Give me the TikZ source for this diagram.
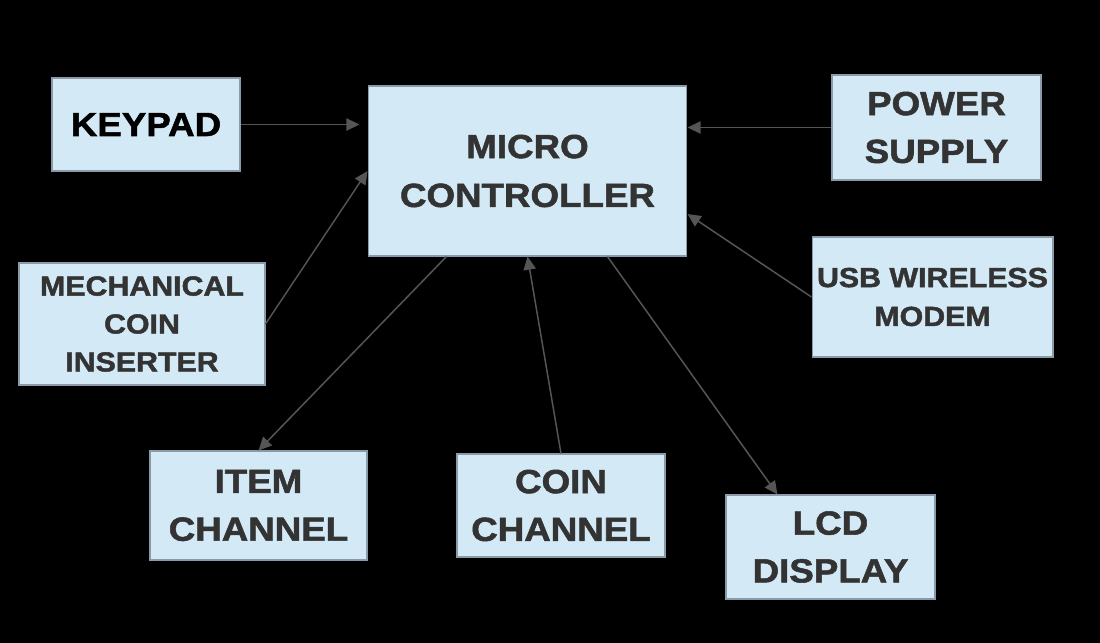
\documentclass[tikz,border=0pt]{standalone}
\usepackage{fontspec}
\setmainfont{Liberation Sans}
\newfontfamily\boxfont{Liberation Sans}[FakeStretch=1.1, FakeBold=1.6]
\usetikzlibrary{arrows.meta}

\definecolor{boxfill}{HTML}{D3E9F6}
\definecolor{boxedge}{HTML}{8A9AA8}
\definecolor{boxtext}{HTML}{333333}
\definecolor{linea}{HTML}{555555}

\begin{document}
\begin{tikzpicture}[x=0.02cm, y=-0.02cm,
	blocco/.style={draw=boxedge, line width=0.6pt, fill=boxfill, text=boxtext, align=center, inner sep=0pt,
		font=\boxfont\bfseries\fontsize{19}{27.2}\selectfont},
	piccolo/.style={font=\boxfont\bfseries\fontsize{15.7}{21.6}\selectfont},
	freccia/.style={draw=linea, line width=0.85pt, -{Triangle[length=7.5pt, width=7pt]}}]
	
	% Sfondo nero con le misure del disegno
	\fill[black] (0, 0) rectangle (1100, 643);
	
	% Blocchi in alto
	\node[blocco, text=black, minimum width=3.76cm, minimum height=1.86cm] (keypad) at (146, 124.5) {KEYPAD};
	\node[blocco, minimum width=6.38cm, minimum height=3.4cm, font=\boxfont\bfseries\fontsize{19}{27.8}\selectfont] (micro) at (527.5, 171) {MICRO\\CONTROLLER};
	\node[blocco, minimum width=4.18cm, minimum height=2.1cm] (power) at (936.5, 127.5) {POWER\\SUPPLY};
	
	% Blocchi laterali con testo piu piccolo
	\node[blocco, piccolo, minimum width=4.92cm, minimum height=2.44cm] (mech) at (142, 324) {MECHANICAL\\COIN\\INSERTER};
	\node[blocco, piccolo, minimum width=4.82cm, minimum height=2.4cm, font=\boxfont\bfseries\fontsize{15.7}{22.1}\selectfont] (usb) at (932.5, 297) {USB WIRELESS\\MODEM};
	
	% Blocchi in basso
	\node[blocco, minimum width=4.34cm, minimum height=2.18cm] (item) at (258.5, 505.5) {ITEM\\CHANNEL};
	\node[blocco, minimum width=4.16cm, minimum height=2.06cm] (coin) at (561, 505.5) {COIN\\CHANNEL};
	\node[blocco, minimum width=4.18cm, minimum height=2.08cm] (lcd) at (830.5, 547) {LCD\\DISPLAY};
	
	% Collegamenti
	\draw[freccia, shorten >=0.16cm] (keypad.east) -- (micro.west |- keypad.east);
	\draw[freccia] (mech.east) -- (micro.west);
	\draw[freccia] (power.west) -- (micro.east |- power.west);
	\draw[freccia] (usb.west) -- ([yshift=-0.86cm]micro.east);
	\draw[freccia] ([xshift=1.58cm]micro.south west) -- (item.north);
	\draw[freccia] (coin.north) -- (micro.south);
	\draw[freccia] ([xshift=4.8cm]micro.south west) -- ([xshift=1.04cm]lcd.north west);
\end{tikzpicture}
\end{document}
